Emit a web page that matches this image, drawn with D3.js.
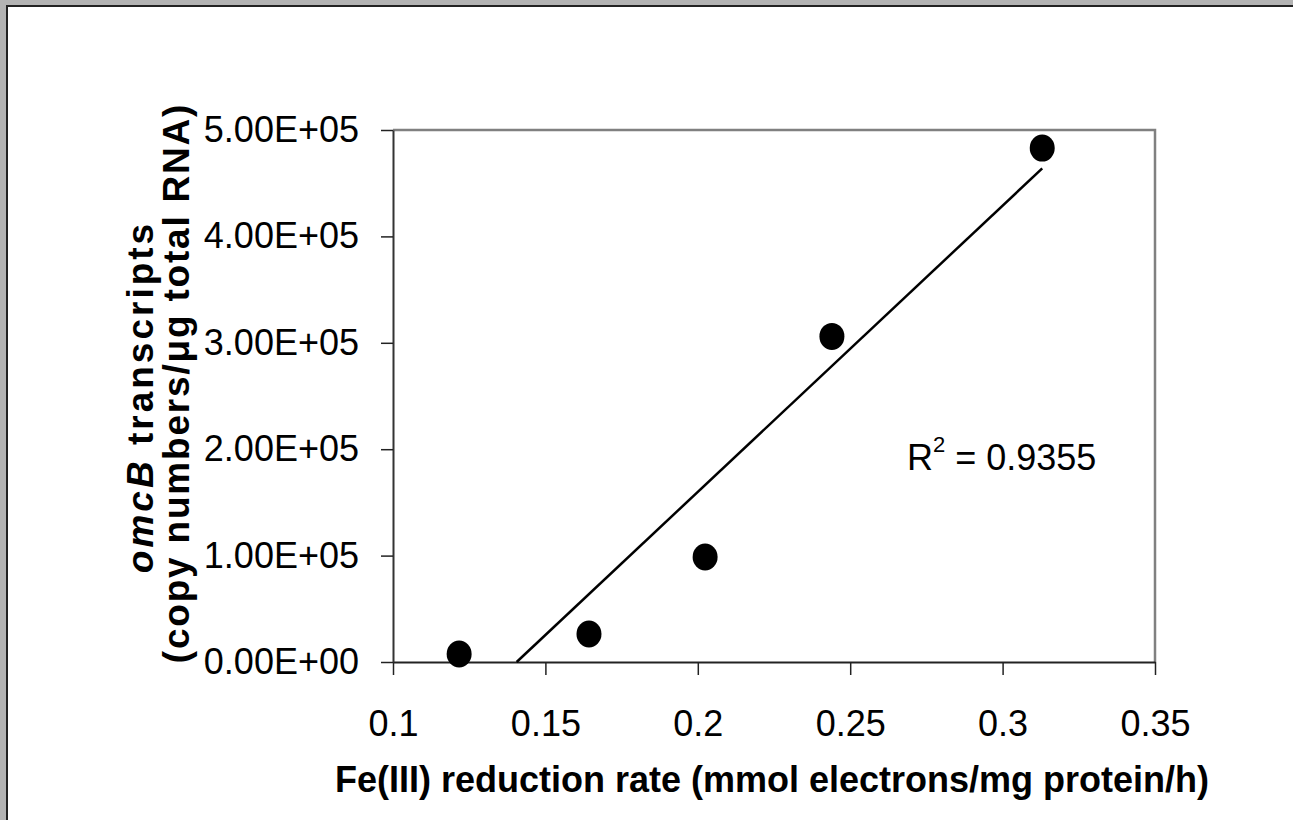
<!DOCTYPE html>
<html>
<head>
<meta charset="utf-8">
<script src="https://cdn.jsdelivr.net/npm/d3@7"></script>
<style>
  body { margin: 0; background: #fff; }
  svg text { font-family: "Liberation Sans", Arial, sans-serif; }
</style>
</head>
<body>
<svg id="chart" width="1293" height="820"></svg>
<script>
// data
var rate = [0.1217, 0.1643, 0.2024, 0.244, 0.313];
var transcripts = [7500, 26300, 98700, 306000, 483000];
var xTicks = [0.1, 0.15, 0.2, 0.25, 0.3, 0.35];
var yTicks = [0, 100000, 200000, 300000, 400000, 500000];
var r2Label = "0.9355";

var svg = d3.select("#chart");
var FONT = "'Liberation Sans', Arial, sans-serif";

// outer frame (gray top/left edges)
svg.append("rect").attr("x", 0).attr("y", 0).attr("width", 1293).attr("height", 820).attr("fill", "#b3b3b3");
svg.append("rect").attr("x", 7).attr("y", 6).attr("width", 1300).attr("height", 830)
    .attr("fill", "#fff").attr("stroke", "#222").attr("stroke-width", 2);

var pLeft = 393, pRight = 1155, pTop = 130, pBottom = 662;

var x = d3.scaleLinear().domain([0.1, 0.35]).range([pLeft, pRight]);
var y = d3.scaleLinear().domain([0, 500000]).range([pBottom, pTop]);

// plot border (gray top and right)
svg.append("path")
    .attr("d", "M" + pLeft + "," + pTop + "H" + pRight + "V" + pBottom)
    .attr("fill", "none").attr("stroke", "#808080").attr("stroke-width", 2.5);

var fmtY = function(d) {
    var e = d === 0 ? 0 : Math.floor(Math.log10(d));
    var m = d === 0 ? 0 : d / Math.pow(10, e);
    return m.toFixed(2) + "E+" + (e < 10 ? "0" : "") + e;
};

var xAxis = svg.append("g")
    .attr("transform", "translate(0," + pBottom + ")")
    .call(d3.axisBottom(x).tickValues(xTicks).tickSize(13).tickSizeOuter(0).tickPadding(35)
        .tickFormat(function(d) { return String(d); }));
xAxis.select(".domain").attr("stroke", "#222").attr("stroke-width", 2);
xAxis.selectAll(".tick line").attr("stroke", "#222").attr("stroke-width", 1.5);
xAxis.selectAll("text").attr("font-size", 36).attr("fill", "#000").attr("font-family", FONT);

var yAxis = svg.append("g")
    .attr("transform", "translate(" + pLeft + ",0)")
    .call(d3.axisLeft(y).tickValues(yTicks).tickSize(12).tickSizeOuter(0).tickPadding(22).tickFormat(fmtY));
yAxis.select(".domain").attr("stroke", "#333").attr("stroke-width", 2);
yAxis.selectAll(".tick line").attr("stroke", "#222").attr("stroke-width", 1.5);
yAxis.selectAll("text").attr("font-size", 36).attr("fill", "#000").attr("font-family", FONT);

// linear trendline (least squares), clipped to the plot area
var mx = d3.mean(rate), my = d3.mean(transcripts),
    sxy = d3.sum(rate, function(v, i) { return (v - mx) * (transcripts[i] - my); }),
    sxx = d3.sum(rate, function(v) { return (v - mx) * (v - mx); }),
    slope = sxy / sxx, icpt = my - slope * mx;
var x0 = Math.max(d3.min(rate), -icpt / slope), x1 = d3.max(rate);

svg.append("line")
    .attr("x1", x(x0)).attr("y1", y(slope * x0 + icpt))
    .attr("x2", x(x1)).attr("y2", y(slope * x1 + icpt))
    .attr("stroke", "#000").attr("stroke-width", 2.5);

svg.selectAll("ellipse.pt")
    .data(rate)
    .enter().append("ellipse")
    .attr("class", "pt")
    .attr("cx", function(d) { return x(d); })
    .attr("cy", function(d, i) { return y(transcripts[i]); })
    .attr("rx", 12.5).attr("ry", 13.5)
    .attr("fill", "#000");

// R squared label
var r2 = svg.append("text").attr("x", 907).attr("y", 470).attr("font-size", 36).attr("fill", "#000");
r2.append("tspan").text("R");
r2.append("tspan").attr("font-size", 22).attr("dy", -18).text("2");
r2.append("tspan").attr("dy", 18).text(" = " + r2Label);

// axis titles
svg.append("text")
    .attr("x", (pLeft + pRight) / 2 - 2).attr("y", 792)
    .attr("text-anchor", "middle").attr("font-size", 36).attr("font-weight", "bold")
    .text("Fe(III) reduction rate (mmol electrons/mg protein/h)");

var t1 = svg.append("text")
    .attr("transform", "translate(153,397) rotate(-90)")
    .attr("text-anchor", "middle").attr("font-size", 37).attr("font-weight", "bold")
    .attr("letter-spacing", 3);
t1.append("tspan").attr("font-style", "italic").text("omcB");
t1.append("tspan").text(" transcripts");
svg.append("text")
    .attr("transform", "translate(189,383) rotate(-90)")
    .attr("text-anchor", "middle").attr("font-size", 37).attr("font-weight", "bold")
    .attr("letter-spacing", 1.8)
    .text("(copy numbers/\u03bcg total RNA)");
</script>
</body>
</html>
